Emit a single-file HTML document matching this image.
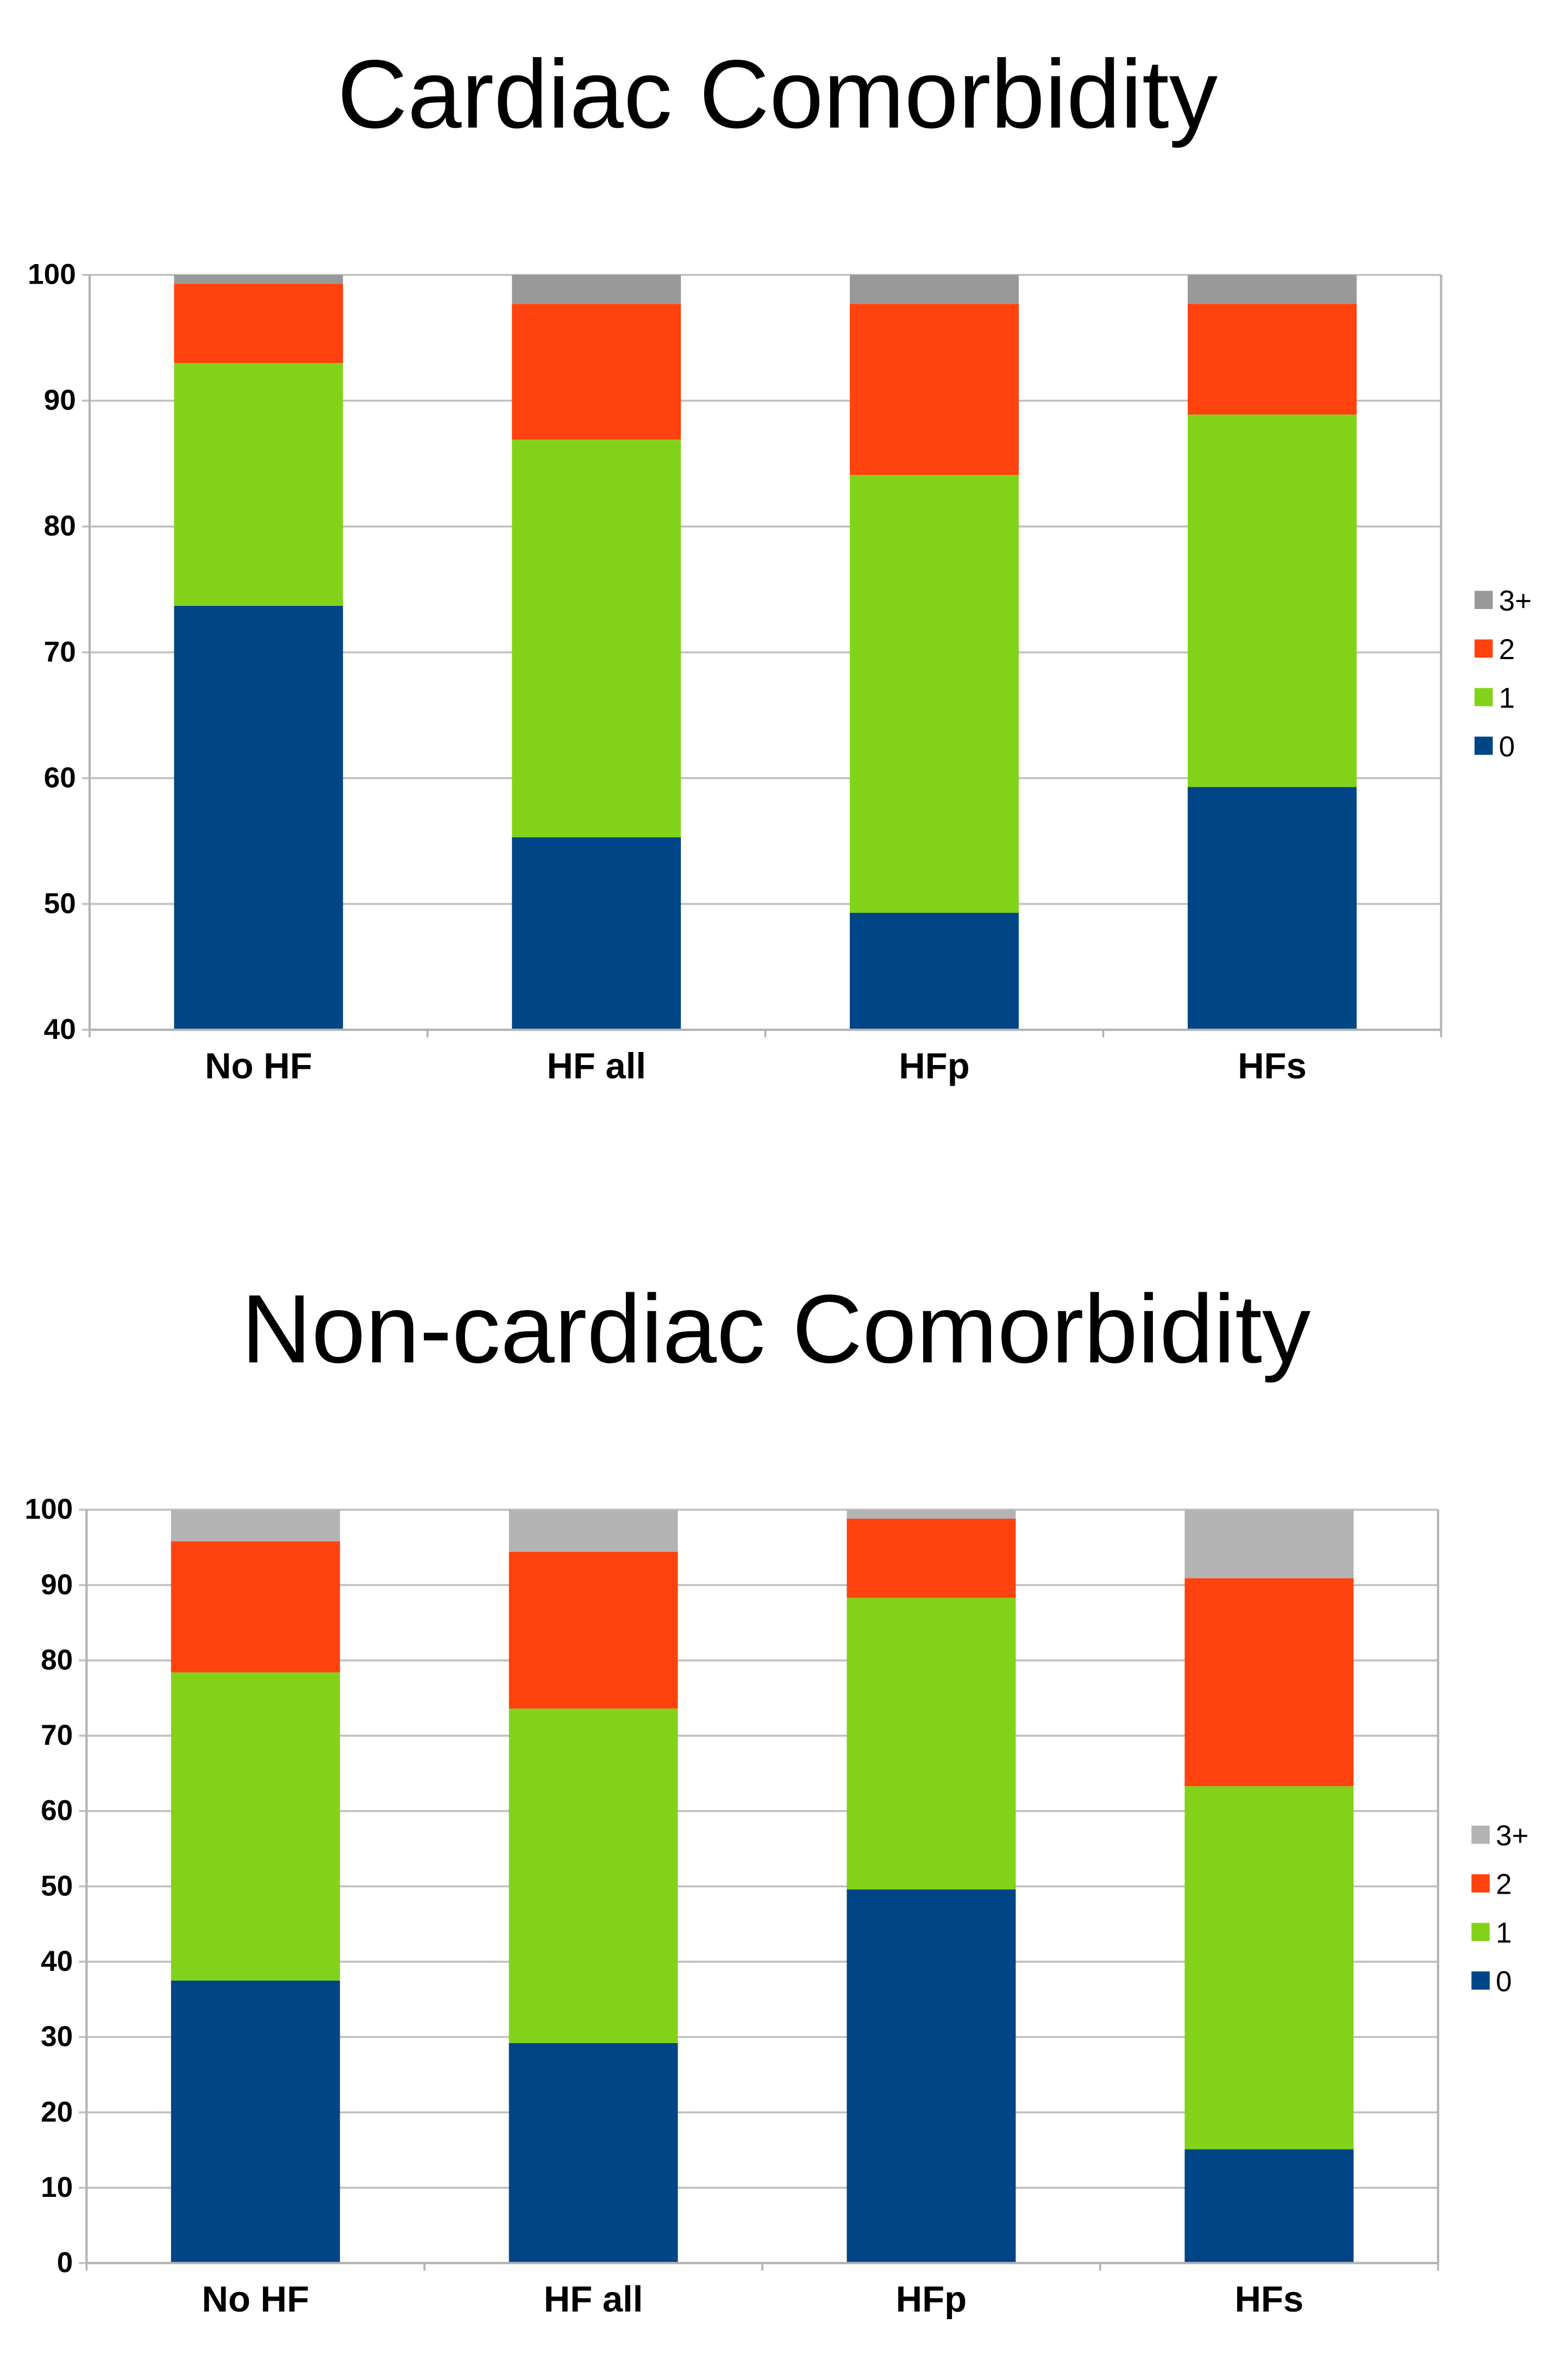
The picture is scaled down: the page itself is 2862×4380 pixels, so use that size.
<!DOCTYPE html>
<html><head><meta charset="utf-8"><style>
html,body{margin:0;padding:0;background:#fff;}
svg{display:block;font-family:"Liberation Sans",sans-serif;}
</style></head><body>
<svg id="root" width="2862" height="4380" viewBox="0 0 1024 1567" preserveAspectRatio="none">
<text x="512" y="84" text-anchor="middle" font-size="64" fill="#000">Cardiac Comorbidity</text>
<text x="511" y="897" text-anchor="middle" font-size="64" fill="#000">Non-cardiac Comorbidity</text>
<g id="c1"></g>
<g id="c2"></g>
</svg>
<script>
const categories = ["No HF", "HF all", "HFp", "HFs"];
const seriesNames = ["0", "1", "2", "3+"];
// Cardiac
const c1s0 = [73.7, 55.3, 49.3, 59.3];
const c1s1 = [19.3, 31.6, 34.8, 29.6];
const c1s2 = [6.3, 10.8, 13.6, 8.8];
const c1s3 = [0.7, 2.3, 2.3, 2.3];
const c1Ticks = [40, 50, 60, 70, 80, 90, 100];
// Non-cardiac
const c2s0 = [37.5, 29.2, 49.6, 15.1];
const c2s1 = [40.9, 44.4, 38.7, 48.2];
const c2s2 = [17.4, 20.8, 10.5, 27.6];
const c2s3 = [4.2, 5.6, 1.2, 9.1];
const c2Ticks = [0, 10, 20, 30, 40, 50, 60, 70, 80, 90, 100];

const NS = "http://www.w3.org/2000/svg";
function mk(tag, attrs, parent){ const e=document.createElementNS(NS,tag); for(const k in attrs) e.setAttribute(k,attrs[k]); parent.appendChild(e); return e; }

function drawChart(g, cfg, series, ticks, colors){
  const {x0,x1,yTop,yBot,vmin,vmax,legY} = cfg;
  const yS = v => yBot - (v - vmin) / (vmax - vmin) * (yBot - yTop);
  const band = (x1 - x0) / categories.length;
  const xS = i => x0 + band * i;
  const bw = band * 0.5;
  ticks.forEach(t=>{
    const l = mk("line",{x1:x0-5,x2:x1,y1:yS(t),y2:yS(t),stroke:"#c0c0c0","stroke-width":1.3},g);
    
    
    const tx = mk("text",{x:x0-9,y:yS(t)+6,"text-anchor":"end","font-size":19,"font-weight":"bold",fill:"#000"},g);
    tx.textContent = t;
    
    
  });
  const ax = mk("line",{x1:x0,x2:x0,y1:yTop,y2:yBot,stroke:"#b3b3b3","stroke-width":1.5},g);
  
  
  const ax2 = mk("line",{x1:x1,x2:x1,y1:yTop,y2:yBot,stroke:"#b3b3b3","stroke-width":1.5},g);
  
  
  for(let i=0;i<=categories.length;i++){
    const tk = mk("line",{x1:xS(i),x2:xS(i),y1:yBot,y2:yBot+5,stroke:"#b3b3b3","stroke-width":1.3},g);
    
    
  }
  categories.forEach((c,i)=>{
    let cum = 0;
    series.forEach((s,k)=>{
      const lo = Math.max(cum, vmin), hi = Math.min(cum + s[i], vmax);
      cum += s[i];
      if(hi<=lo) return;
      const r = mk("rect",{x:xS(i)+band/4,y:yS(hi),width:bw,height:yS(lo)-yS(hi),fill:colors[k]},g);
      
      
    });
    const t = mk("text",{x:xS(i)+band/2,y:yBot+32,"text-anchor":"middle","font-size":24,"font-weight":"bold",fill:"#000"},g);
    t.textContent = c;
    
    
  });
  const base = mk("line",{x1:x0,x2:x1,y1:yBot,y2:yBot,stroke:"#b3b3b3","stroke-width":1.5},g);
  
  
  for(let k=3;k>=0;k--){
    const y = legY + (3-k)*32;
    const sq = mk("rect",{x:cfg.legX,y:y-6,width:12,height:12,fill:colors[k]},g);
    
    
    const lt = mk("text",{x:cfg.legX+16,y:y+7,"font-size":19,fill:"#000"},g);
    lt.textContent = seriesNames[k];
    
    
  }
}
drawChart(document.getElementById("c1"),
  {x0:59,x1:949,yTop:181,yBot:678,vmin:40,vmax:100,legY:395,legX:971},
  [c1s0,c1s1,c1s2,c1s3], c1Ticks, ["#004586","#83d21a","#ff420e","#999999"]);
drawChart(document.getElementById("c2"),
  {x0:57,x1:947,yTop:994,yBot:1490,vmin:0,vmax:100,legY:1208,legX:969},
  [c2s0,c2s1,c2s2,c2s3], c2Ticks, ["#004586","#83d21a","#ff420e","#b3b3b3"]);
</script>
</body></html>
